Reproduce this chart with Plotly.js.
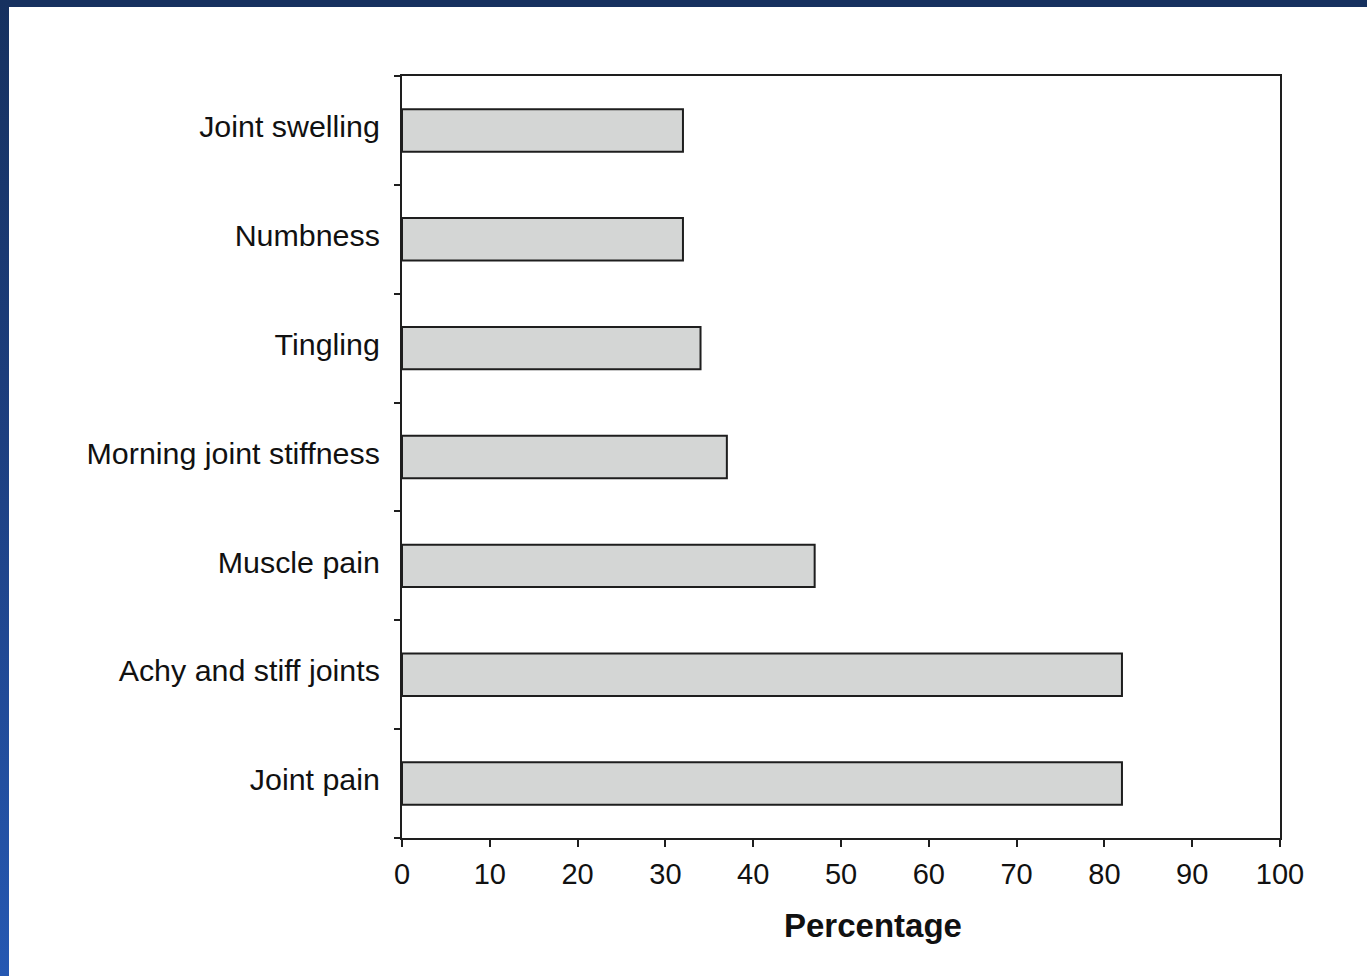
<!DOCTYPE html>
<html>
<head>
<meta charset="utf-8">
<script src="https://cdn.plot.ly/plotly-3.0.1.min.js"></script>
<style>
  html, body { margin: 0; padding: 0; background: #ffffff; overflow: hidden; }
  #chart { position: absolute; left: 0; top: 0; width: 1367px; height: 976px; }
  #topbar { position: absolute; left: 0; top: 0; width: 1367px; height: 7px; background: #16315f; z-index: 10; }
  #leftbar { position: absolute; left: 0; top: 0; width: 9px; height: 976px;
             background: linear-gradient(to bottom, #16315f 0%, #1d3f80 45%, #2558b2 100%); z-index: 10; }
</style>
</head>
<body>
<div id="chart"></div>
<div id="topbar"></div>
<div id="leftbar"></div>
<script>
// Categories listed bottom to top
const categories = [
  "Joint pain",
  "Achy and stiff joints",
  "Muscle pain",
  "Morning joint stiffness",
  "Tingling",
  "Numbness",
  "Joint swelling"
];
const percentages = [82, 82, 47, 37, 34, 32, 32];
const xTickValues = [0, 10, 20, 30, 40, 50, 60, 70, 80, 90, 100];
const xAxisTitle = "Percentage";

const trace = {
  type: "bar",
  orientation: "h",
  y: categories,
  x: percentages,
  width: 0.39,
  marker: { color: "#d4d6d5", line: { color: "#1e1e1e", width: 2 } },
  hoverinfo: "x+y"
};

const layout = {
  width: 1367,
  height: 976,
  margin: { l: 402, r: 87, t: 76, b: 138, pad: 0 },
  paper_bgcolor: "#ffffff",
  plot_bgcolor: "#ffffff",
  showlegend: false,
  xaxis: {
    range: [0, 100],
    tickvals: xTickValues,
    ticktext: xTickValues.map(String),
    ticks: "outside",
    ticklen: 7,
    tickwidth: 2,
    tickcolor: "#1e1e1e",
    showline: true,
    linecolor: "#1e1e1e",
    linewidth: 2,
    mirror: true,
    showgrid: false,
    zeroline: false,
    tickfont: { family: "Liberation Sans, Arial, sans-serif", size: 29, color: "#111111" },
    ticklabelstandoff: 2,
    fixedrange: true
  },
  yaxis: {
    type: "category",
    categoryorder: "array",
    categoryarray: categories,
    tickson: "boundaries",
    ticks: "outside",
    ticklen: 6,
    tickwidth: 2,
    tickcolor: "#1e1e1e",
    showline: true,
    linecolor: "#1e1e1e",
    linewidth: 2,
    mirror: true,
    showgrid: false,
    zeroline: false,
    tickfont: { family: "Liberation Sans, Arial, sans-serif", size: 30.4, color: "#111111" },
    ticklabelstandoff: 14,
    ticklabelshift: -4,
    fixedrange: true
  },
  annotations: [{
    text: "<b>" + xAxisTitle + "</b>",
    xref: "paper", yref: "paper",
    x: 0.536, y: -0.115,
    xanchor: "center", yanchor: "middle",
    showarrow: false,
    font: { family: "Liberation Sans, Arial, sans-serif", size: 33, color: "#111111" }
  }]
};

Plotly.newPlot("chart", [trace], layout, { displayModeBar: false, staticPlot: true });
</script>
</body>
</html>
